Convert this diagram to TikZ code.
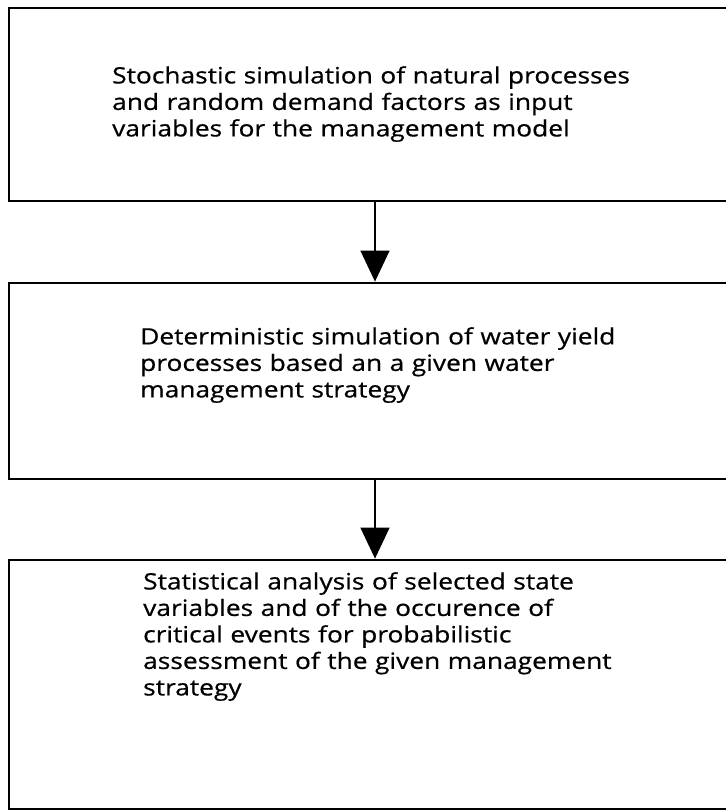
\documentclass[tikz,border=0pt]{standalone}
\usepackage{fontspec}
\setmainfont[FakeStretch=1.17,FakeBold=0.6]{Open Sans}
\usetikzlibrary{arrows.meta}
\begin{document}
\begin{tikzpicture}[
    x=1pt,y=-1pt,
    box/.style={draw,line width=2.8pt,minimum width=732pt,inner sep=0pt},
    txt/.style={anchor=north west,align=left,text width=590pt,inner sep=0pt,
      font=\fontsize{22.5}{26.5}\selectfont},
    arr/.style={-{Triangle[width=29pt,length=31pt]},line width=1.4pt}
]
\useasboundingbox (0,0) rectangle (726,812);
\clip (0,0) rectangle (726,812);
\node[box,minimum height=193pt] (b1) at (375,104.5) {};
\node[box,minimum height=196pt] (b2) at (375,381) {};
\node[box,minimum height=249pt] (b3) at (375,684.5) {};
\node[txt] (t1) at (112,66) {Stochastic simulation of natural processes\\and random demand factors as input\\variables for the management model};
\node[txt] (t2) at (140,327) {Deterministic simulation of water yield\\processes based an a given water\\management strategy};
\node[txt] (t3) at (143,572) {Statistical analysis of selected state\\variables and of the occurence of\\critical events for probabilistic\\assessment of the given management\\strategy};
\draw[arr] (b1) -- (b2);
\draw[arr] (b2) -- (b3);
\end{tikzpicture}
\end{document}
